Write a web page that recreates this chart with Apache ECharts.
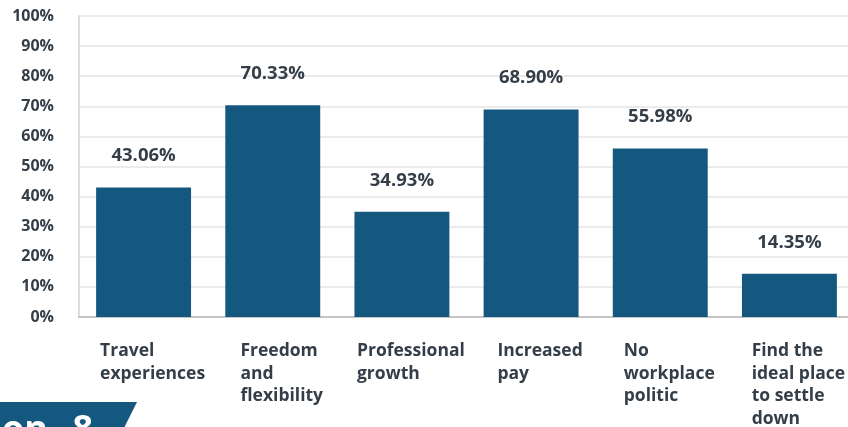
<!DOCTYPE html>
<html>
<head>
<meta charset="utf-8">
<script src="https://cdn.jsdelivr.net/npm/echarts@6/dist/echarts.min.js"></script>
<style>
  html, body { margin: 0; padding: 0; background: #ffffff; }
  #chart { width: 848px; height: 427px; }
</style>
</head>
<body>
<div id="chart"></div>
<script>
// Reasons for choosing the lifestyle (share of respondents)
const categories = [
  ['Travel', 'experiences'],
  ['Freedom', 'and', 'flexibility'],
  ['Professional', 'growth'],
  ['Increased', 'pay'],
  ['No', 'workplace', 'politic'],
  ['Find the', 'ideal place', 'to settle', 'down']
];
const shares = [43.06, 70.33, 34.93, 68.90, 55.98, 14.35];
const yTicks = [0, 10, 20, 30, 40, 50, 60, 70, 80, 90, 100];
const bannerWord = 'Question';
const bannerNumber = '8';

const textColor = '#343e48';
const barColor = '#14587f';
const fontFamily = '"Open Sans", Lato, sans-serif';

const chart = echarts.init(document.getElementById('chart'));
chart.setOption({
  animation: false,
  backgroundColor: '#ffffff',
  // plot area runs a few pixels past the right edge of the canvas
  grid: { left: 79, top: 16, width: 775, bottom: 110, containLabel: false, outerBoundsMode: 'none' },
  xAxis: {
    type: 'category',
    data: categories.map(lines => lines.join('\n')),
    axisLine: { show: true, lineStyle: { color: '#c4c4c4', width: 2 } },
    axisTick: { show: false },
    axisLabel: {
      interval: 0,
      margin: 23,
      align: 'center',
      padding: [0, 0, 0, 18],
      formatter: v => v.split('\n').map(s => '{a|' + s + '}').join('\n'),
      rich: {
        a: {
          align: 'left',
          color: textColor,
          fontFamily: fontFamily,
          fontWeight: 'bold',
          fontSize: 17.5,
          lineHeight: 22.5
        }
      }
    }
  },
  yAxis: {
    type: 'value',
    min: yTicks[0],
    max: yTicks[yTicks.length - 1],
    interval: yTicks[1] - yTicks[0],
    axisLine: { show: true, lineStyle: { color: '#dcdcdc', width: 2 } },
    axisTick: { show: false },
    splitLine: { show: true, lineStyle: { color: '#ebebeb', width: 2 } },
    axisLabel: {
      margin: 25,
      color: textColor,
      fontFamily: fontFamily,
      fontWeight: 'bold',
      fontSize: 16,
      formatter: v => v + '%'
    }
  },
  series: [{
    type: 'bar',
    data: shares,
    barCategoryGap: '26.5%',
    itemStyle: { color: barColor },
    label: {
      show: true,
      position: 'top',
      distance: 22,
      color: textColor,
      fontFamily: fontFamily,
      fontWeight: 'bold',
      fontSize: 18.5,
      formatter: p => p.value.toFixed(2) + '%'
    }
  }],
  graphic: [
    {
      type: 'polygon',
      shape: { points: [[0, 402], [137, 402], [123, 430], [0, 430]] },
      style: { fill: barColor }
    },
    {
      type: 'text',
      x: 48,
      y: 413,
      style: {
        text: bannerWord,
        align: 'right',
        verticalAlign: 'top',
        fill: '#ffffff',
        font: 'bold 36px ' + fontFamily
      }
    },
    {
      type: 'text',
      x: 93,
      y: 413,
      style: {
        text: bannerNumber,
        align: 'right',
        verticalAlign: 'top',
        fill: '#ffffff',
        font: 'bold 36px ' + fontFamily
      }
    }
  ]
});
</script>
</body>
</html>
